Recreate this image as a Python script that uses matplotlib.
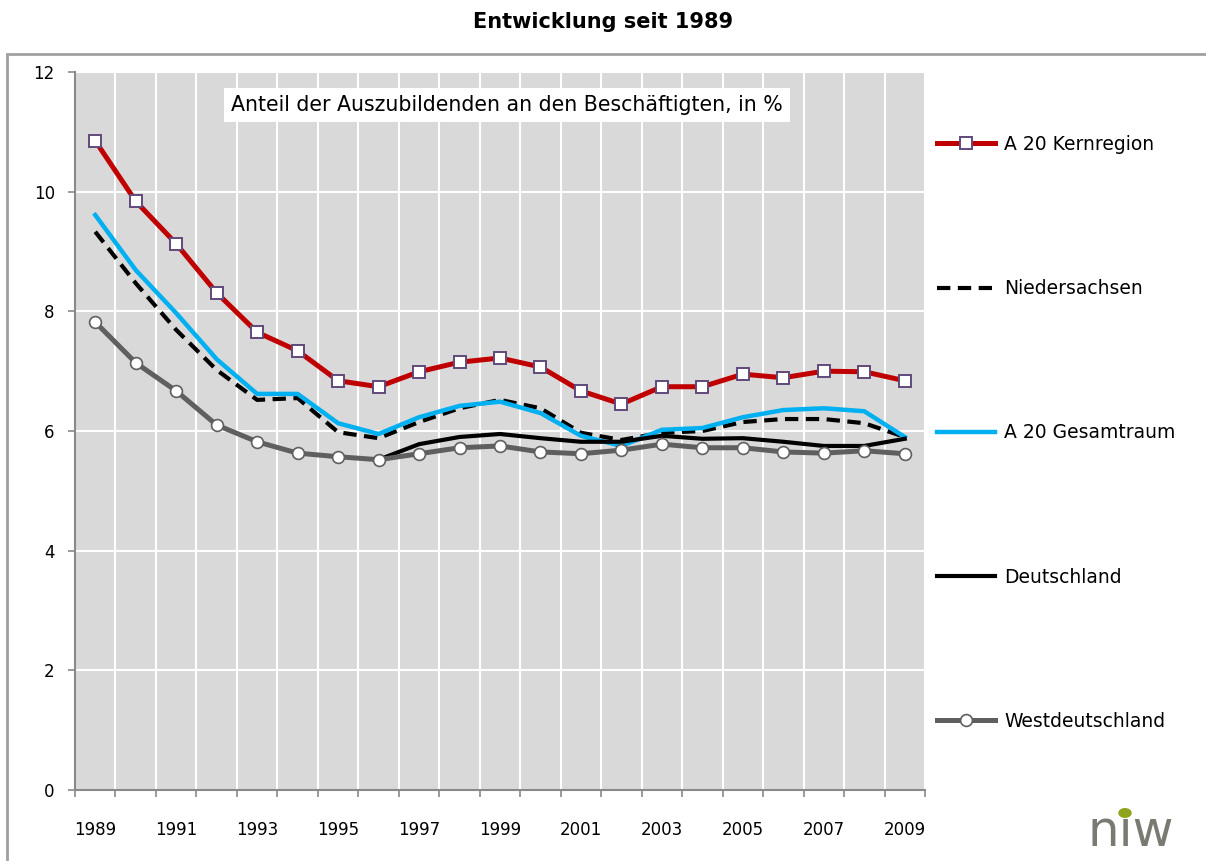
import numpy as np
import matplotlib
matplotlib.use("Agg")
import matplotlib.pyplot as plt
from matplotlib.patches import Rectangle, Circle

plt.rcParams['font.family'] = ['DejaVu Sans']

# Daten: Anteil der Auszubildenden an den Beschäftigten, in %
jahre = list(range(1989, 2010))
kernregion = [10.85, 9.84, 9.13, 8.31, 7.65, 7.34, 6.84, 6.74, 6.99, 7.15, 7.22,
              7.07, 6.67, 6.45, 6.74, 6.74, 6.95, 6.89, 7.00, 6.99, 6.84]
niedersachsen = [9.33, 8.47, 7.69, 7.02, 6.52, 6.55, 5.98, 5.88, 6.15, 6.38, 6.52,
                 6.38, 5.97, 5.85, 5.97, 6.00, 6.15, 6.20, 6.20, 6.13, 5.90]
gesamtraum = [9.61, 8.69, 7.97, 7.20, 6.62, 6.62, 6.13, 5.95, 6.23, 6.42, 6.49,
              6.30, 5.92, 5.75, 6.02, 6.05, 6.23, 6.35, 6.38, 6.33, 5.90]
deutschland = [np.nan] * 7 + [5.52, 5.78, 5.90, 5.95, 5.88, 5.82, 5.82, 5.92,
                              5.87, 5.88, 5.82, 5.75, 5.75, 5.87]
westdeutschland = [7.82, 7.14, 6.67, 6.10, 5.82, 5.63, 5.57, 5.52, 5.62, 5.72, 5.75,
                   5.65, 5.62, 5.68, 5.78, 5.72, 5.72, 5.65, 5.63, 5.67, 5.62]

x = np.arange(len(jahre))

fig = plt.figure(figsize=(12.06, 8.61), dpi=100)
W, H = 1206, 861
ax = fig.add_axes([75 / W, (H - 790) / H, 850 / W, 718 / H])
ax.set_facecolor('#D9D9D9')

# Reihen (Reihenfolge wie im Original)
l1, = ax.plot(x, kernregion, color='#C00000', lw=3.6, marker='s', ms=9,
              mfc='white', mec='#604A7B', mew=1.4, label='A 20 Kernregion', zorder=3)
l2, = ax.plot(x, niedersachsen, color='black', lw=3.0, ls=(0, (3.2, 1.8)),
              label='Niedersachsen', zorder=3)
l3, = ax.plot(x, gesamtraum, color='#00B0F0', lw=3.2, label='A 20 Gesamtraum', zorder=3)
l4, = ax.plot(x, deutschland, color='black', lw=3.0, label='Deutschland', zorder=3)
l5, = ax.plot(x, westdeutschland, color='#5F5F5F', lw=3.6, marker='o', ms=8.5,
              mfc='white', mec='#5F5F5F', mew=1.2, label='Westdeutschland', zorder=3)

# Achsen
ax.set_xlim(-0.5, len(jahre) - 0.5)
ax.set_ylim(0, 12)
ax.set_yticks(np.arange(0, 13, 2))
ax.set_xticks(np.arange(-0.5, len(jahre), 1))
ax.set_xticklabels([])
ax.set_xticks(x[::2], minor=True)
ax.set_xticklabels([str(j) for j in jahre[::2]], minor=True)
ax.tick_params(axis='x', which='major', length=5, color='#898989', width=1.2)
ax.tick_params(axis='x', which='minor', length=0, pad=22, labelsize=12)
ax.tick_params(axis='y', length=5, color='#898989', width=1.2, labelsize=12, pad=9.5)
ax.grid(True, which='major', color='white', lw=1.5)
ax.set_axisbelow(True)
for s in ['top', 'right']:
    ax.spines[s].set_visible(False)
for s in ['left', 'bottom']:
    ax.spines[s].set_color('#898989')
    ax.spines[s].set_linewidth(1.5)

# Textbox im Diagramm
ax.text((507 - 75) / 850, 1 - (105 - 72) / 718,
        'Anteil der Auszubildenden an den Beschäftigten, in %',
        transform=ax.transAxes, ha='center', va='center', fontsize=14.8,
        bbox=dict(facecolor='white', edgecolor='none', pad=5), zorder=4)

# Legende
leg = fig.legend(handles=[l1, l2, l3, l4, l5], loc='center left',
                 bbox_to_anchor=(937 / W, (H - 433) / H), frameon=False,
                 fontsize=13.5, labelspacing=6.68, handlelength=3.1,
                 handletextpad=0.5, borderpad=0, borderaxespad=0)

# Titel
fig.text(0.5, 1 - 22 / H, 'Entwicklung seit 1989', ha='center', va='center',
         fontsize=15, fontweight='bold')

# Rahmen
fig.patches.append(Rectangle((7 / W, -0.1), 1.2, (H - 54) / H + 0.1,
                             transform=fig.transFigure, fill=False,
                             edgecolor='#A0A0A0', lw=2))

# Logo
fig.text(1131 / W, 1 - 832 / H, 'nıw', ha='center', va='center', fontsize=36,
         color='#7A7A72')
fig.patches.append(Circle((1125 / W, 1 - 813 / H), 6 / W,
                          transform=fig.transFigure, color='#8FA31B'))

fig.savefig('out.png', dpi=100)
